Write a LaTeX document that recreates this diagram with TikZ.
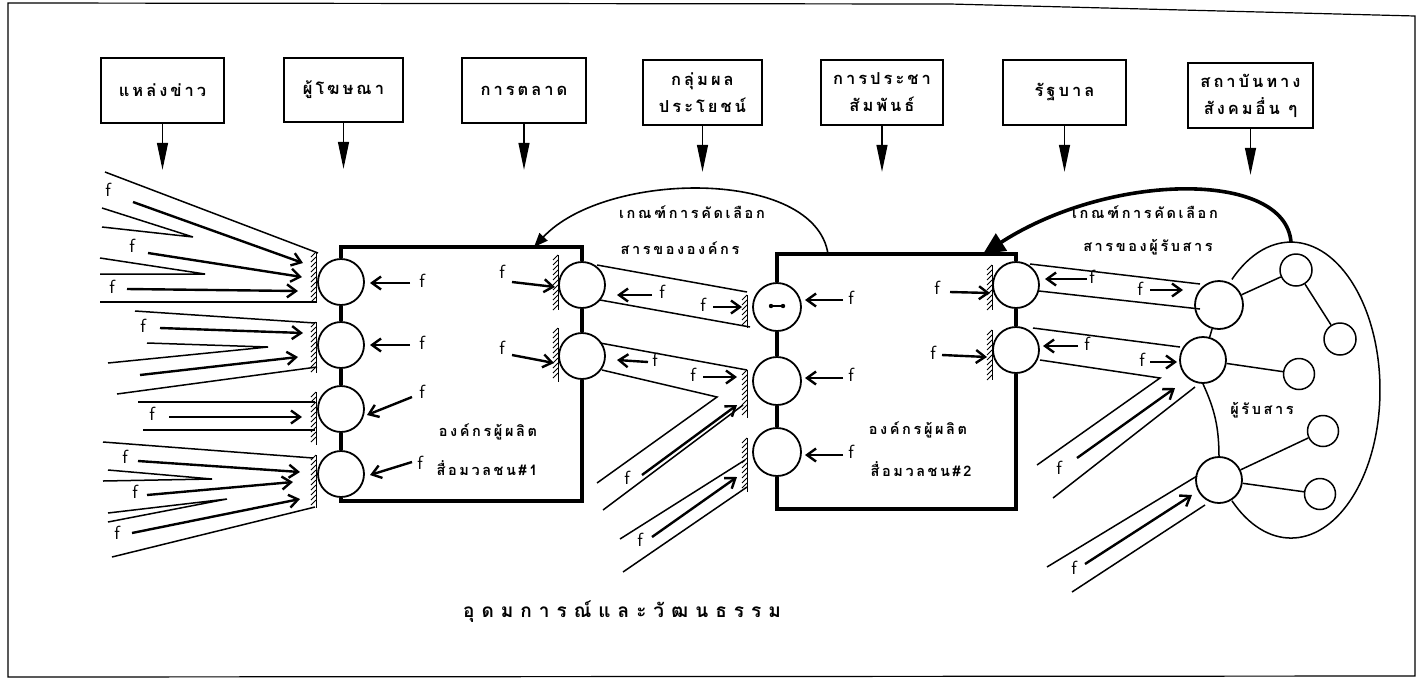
\documentclass[tikz,border=0pt]{standalone}
\usepackage{fontspec}
\newfontfamily\thai[Script=Thai]{Loma}
\newfontfamily\thaisp[Script=Thai,LetterSpace=18]{Loma}
\usetikzlibrary{arrows.meta,shapes.geometric}
\tikzset{
  srcbox/.style={draw, line width=1.6pt, inner sep=0pt, align=center,
    font=\thaisp\bfseries\fontsize{16.5}{27}\selectfont},
  toparrow/.style={line width=1.3pt, -{Triangle[length=27pt,width=11pt]}},
  circ/.style={circle, draw, line width=1.8pt, inner sep=0pt, minimum size=46pt},
  scirc/.style={circle, draw, line width=1.5pt, inner sep=0pt, minimum size=32pt},
  boxline/.style={line width=3.4pt},
  chan/.style={line width=1.5pt},
  farrow/.style={line width=2.4pt, -{Straight Barb[length=9pt,width=13pt]}},
  flab/.style={inner sep=0pt, font=\sffamily\fontsize{19}{19}\selectfont},
  hatch/.style={line width=1pt},
  thtext/.style={inner sep=0pt, font=\thaisp\bfseries\fontsize{14.5}{20}\selectfont},
  ardA/.style={line width=1.6pt, -{Triangle[length=14pt,width=11pt]}},
  ardB/.style={line width=3.6pt, -{Triangle[length=22pt,width=20pt]}},
}
\newcommand{\hatchbar}[3]{%
  \draw[hatch] (#1,#2) -- (#1,#3);
  \pgfmathsetmacro\hbA{#2+5}\pgfmathsetmacro\hbB{#2+10}%
  \foreach \yy in {\hbA,\hbB,...,#3} \draw[hatch] (#1-5,\yy) -- (#1,\yy-5);
}
\begin{document}
\begin{tikzpicture}[x=1pt,y=-1pt]
\useasboundingbox (0,0) rectangle (1423,681);
% frame
\draw[line width=1.2pt] (8,3) -- (950,4) -- (1415,16) -- (1415,676) -- (8,677) -- cycle;

% top source boxes
\node[srcbox, minimum width=123pt, minimum height=65pt] (t1) at (162.5,90.5) {แหล่งข่าว};
\node[srcbox, minimum width=119pt, minimum height=64pt] (t2) at (343.5,90) {ผู้โฆษณา};
\node[srcbox, minimum width=124pt, minimum height=65pt] (t3) at (524,90.5) {การตลาด};
\node[srcbox, minimum width=119pt, minimum height=65pt] (t4) at (702.5,92.5) {กลุ่มผล\\ประโยชน์};
\node[srcbox, minimum width=122pt, minimum height=65pt] (t5) at (882,92.5) {การประชา\\สัมพันธ์};
\node[srcbox, minimum width=123pt, minimum height=65pt] (t6) at (1064.5,92.5) {รัฐบาล};
\node[srcbox, minimum width=125pt, minimum height=65pt] (t7) at (1250.5,95.5) {สถาบันทาง\\สังคมอื่น ๆ};
\foreach \n in {1,...,7} \draw[toparrow] (t\n.south) -- ++(0,46);

% organisation 1
\node[circ] (a1) at (341,282) {};
\node[circ] (a2) at (341,345) {};
\node[circ] (a3) at (341,409) {};
\node[circ] (a4) at (341,474) {};
\node[circ] (b1) at (582,285) {};
\node[circ] (b2) at (582,356) {};
\draw[boxline] (a1.north) -- (341,247) -- (582,247) -- (b1.north);
\draw[boxline] (b1.south) -- (b2.north);
\draw[boxline] (b2.south) -- (582,501) -- (341,501) -- (a4.south);
\draw[boxline] (a1.south) -- (a2.north);
\draw[boxline] (a2.south) -- (a3.north);
\draw[boxline] (a3.south) -- (a4.north);
\node[thtext] (o1a) at (488,432) {องค์กรผู้ผลิต};
\node[thtext] (o1b) at (487,468) {สื่อมวลชน\#1};

% organisation 2
\node[circ, minimum size=48pt] (c1) at (777,307) {};
\node[circ, minimum size=48pt] (c2) at (777,381) {};
\node[circ, minimum size=48pt] (c3) at (777,452) {};
\node[circ] (d1) at (1016,285) {};
\node[circ] (d2) at (1016,350) {};
\draw[boxline] (c1.north) -- (777,254) -- (1016,254) -- (d1.north);
\draw[boxline] (d1.south) -- (d2.north);
\draw[boxline] (d2.south) -- (1016,509) -- (777,509) -- (c3.south);
\draw[boxline] (c1.south) -- (c2.north);
\draw[boxline] (c2.south) -- (c3.north);
\fill (771,306) circle (2.2) (783,306) circle (2.2);
\draw[line width=1.2pt] (771,306) -- (783,306);
\node[thtext] (o2a) at (918,430) {องค์กรผู้ผลิต};
\node[thtext] (o2b) at (921,469) {สื่อมวลชน\#2};

% audience
\node[circ, minimum size=48pt] (r1) at (1219,305) {};
\node[circ] (r2) at (1203,360) {};
\node[circ] (r3) at (1219,480) {};
\coordinate (audtop) at (1291,242);
\draw[line width=1.5pt] (1231.9,279.4) arc[start angle=-131.6, end angle=131.6, x radius=89, y radius=148];
\node[scirc] (s1) at (1296,270) {};
\node[scirc] (s2) at (1340,339) {};
\node[scirc, minimum size=31pt] (s3) at (1299,374) {};
\node[scirc, minimum size=31pt] (s4) at (1323,431) {};
\node[scirc, minimum size=31pt] (s5) at (1320,494) {};
\draw[chan] (r1) -- (s1);
\draw[chan] (s1) -- (s2);
\draw[chan] (r2) -- (s3);
\draw[chan] (r3) -- (s4);
\draw[chan] (r3) -- (s5);
\draw[chan] (r1) -- (r2);
\draw[chan] (r2.south) to[bend left=12] (r3.north);
\node[thtext] (audl) at (1262,410) {ผู้รับสาร};

% selection arcs
\draw[ardA] (828,254) .. controls (815,168) and (606,170) .. (534,247);
\node[thtext] (selA1) at (692,212) {เกณฑ์การคัดเลือก};
\node[thtext] (selA2) at (680,248) {สารขององค์กร};
\draw[ardB] (audtop) .. controls (1285,170) and (1110,172) .. (983,254);
\node[thtext] (selB1) at (1145,212) {เกณฑ์การคัดเลือก};
\node[thtext] (selB2) at (1148,247) {สารของผู้รับสาร};

% left fan into organisation 1
\hatchbar{316}{252}{303}
\hatchbar{316}{322}{373}
\hatchbar{316}{392}{445}
\hatchbar{316}{455}{508}
\draw[chan] (105,172) -- (318,253);
\draw[farrow] (133,202) -- (303,263); \node[flab] at (108,190) {f};
\draw[chan] (102,208) -- (193,237) -- (102,227);
\draw[farrow] (148,253) -- (302,277); \node[flab] at (132,246) {f};
\draw[chan] (100,258) -- (205,274) -- (100,274);
\draw[farrow] (127,289) -- (298,291); \node[flab] at (112,287) {f};
\draw[chan] (100,302) -- (317,302);

\draw[chan] (135,311) -- (315,323);
\draw[farrow] (160,328) -- (303,333); \node[flab] at (143,326) {f};
\draw[chan] (147,343) -- (268,347) -- (108,363);
\draw[farrow] (140,375) -- (298,357);
\draw[chan] (117,394) -- (317,367);

\draw[chan] (138,402) -- (315,402);
\draw[farrow] (169,417) -- (302,417); \node[flab] at (152,414) {f};
\draw[chan] (143,430) -- (315,430);

\draw[chan] (103,442) -- (313,458);
\draw[farrow] (138,461) -- (300,472); \node[flab] at (125,457) {f};
\draw[chan] (108,470) -- (212,479) -- (103,481);
\draw[farrow] (147,495) -- (293,482); \node[flab] at (135,492) {f};
\draw[chan] (108,513) -- (227,499) -- (108,522);
\draw[farrow] (132,533) -- (300,499); \node[flab] at (117,533) {f};
\draw[chan] (112,557) -- (315,507);

% inner arrows organisation 1
\draw[farrow] (410,283) -- (370,283); \node[flab] at (422,281) {f};
\draw[farrow] (410,345) -- (370,345); \node[flab] at (422,343) {f};
\draw[farrow] (412,397) -- (367,415); \node[flab] at (422,392) {f};
\draw[farrow] (412,462) -- (370,475); \node[flab] at (420,463) {f};
\hatchbar{558}{255}{310}
\hatchbar{558}{328}{382}
\draw[farrow] (512,282) -- (555,287); \node[flab] at (502,272) {f};
\draw[farrow] (512,355) -- (554,363); \node[flab] at (502,348) {f};

% channels between organisations
\hatchbar{747}{295}{328}
\hatchbar{747}{370}{418}
\hatchbar{747}{438}{492}
\draw[chan] (597,265) -- (747,292);
\draw[chan] (600,300) -- (750,327);
\draw[farrow] (652,295) -- (617,295); \node[flab] at (662,292) {f};
\node[flab] at (703,305) {f}; \draw[farrow] (713,307) -- (742,307);

\draw[chan] (600,343) -- (747,370);
\draw[chan] (602,370) -- (717,397) -- (597,483);
\draw[farrow] (648,362) -- (617,360); \node[flab] at (655,360) {f};
\node[flab] at (693,375) {f}; \draw[farrow] (703,377) -- (737,377);
\draw[chan] (743,405) -- (603,510);
\draw[farrow] (642,475) -- (737,405); \node[flab] at (627,478) {f};

\draw[chan] (620,539) -- (745,460);
\draw[farrow] (652,537) -- (737,477); \node[flab] at (640,540) {f};
\draw[chan] (623,572) -- (747,487);

% inner arrows organisation 2
\draw[farrow] (843,300) -- (805,300); \node[flab] at (851,298) {f};
\draw[farrow] (843,378) -- (805,378); \node[flab] at (851,375) {f};
\draw[farrow] (843,455) -- (805,455); \node[flab] at (851,452) {f};
\hatchbar{992}{265}{310}
\hatchbar{992}{330}{380}
\draw[farrow] (950,292) -- (990,293); \node[flab] at (937,288) {f};
\draw[farrow] (942,355) -- (987,357); \node[flab] at (933,353) {f};

% channels to audience
\draw[chan] (1030,264) -- (1200,284);
\draw[chan] (1039,291) -- (1200,309);
\draw[farrow] (1087,279) -- (1045,279); \node[flab] at (1092,277) {f};
\node[flab] at (1140,289) {f}; \draw[farrow] (1150,290) -- (1183,290);

\draw[chan] (1033,328) -- (1180,347);
\draw[chan] (1040,360) -- (1160,378) -- (1037,465);
\draw[chan] (1195,387) -- (1053,498);
\draw[farrow] (1078,346) -- (1043,346); \node[flab] at (1087,344) {f};
\node[flab] at (1142,360) {f}; \draw[farrow] (1150,362) -- (1177,362);
\draw[farrow] (1077,458) -- (1175,388); \node[flab] at (1059,468) {f};

\draw[chan] (1047,567) -- (1197,476);
\draw[chan] (1072,592) -- (1205,505);
\draw[farrow] (1085,564) -- (1192,495); \node[flab] at (1074,568) {f};

% bottom caption
\node[inner sep=0pt, font=\thai\bfseries\fontsize{19}{22}\selectfont] (cap) at (622,612)
  {อุ\hspace{7pt}ด\hspace{7pt}ม\hspace{7pt}ก\hspace{7pt}า\hspace{7pt}ร\hspace{7pt}ณ์\hspace{7pt}แ\hspace{7pt}ล\hspace{7pt}ะ\hspace{7pt}วั\hspace{7pt}ฒ\hspace{7pt}น\hspace{7pt}ธ\hspace{7pt}ร\hspace{7pt}ร\hspace{7pt}ม};
\end{tikzpicture}
\end{document}
